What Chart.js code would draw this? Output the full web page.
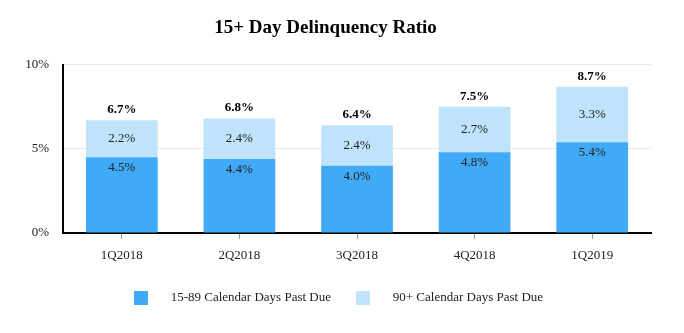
<!DOCTYPE html>
<html>
<head>
<meta charset="utf-8">
<script src="https://cdn.jsdelivr.net/npm/chart.js@4/dist/chart.umd.min.js"></script>
<style>
  html, body { margin: 0; padding: 0; background: #fff; }
  #wrap { width: 684px; height: 333px; }
</style>
</head>
<body>
<div id="wrap"><canvas id="delq"></canvas></div>
<script>
  var quarters = ["1Q2018", "2Q2018", "3Q2018", "4Q2018", "1Q2019"];
  var days15to89 = [4.5, 4.4, 4.0, 4.8, 5.4];
  var days90plus = [2.2, 2.4, 2.4, 2.7, 3.3];
  var totals = [6.7, 6.8, 6.4, 7.5, 8.7];
  var yTicks = [0, 5, 10];

  var serif = "'Liberation Serif', 'Times New Roman', serif";

  // labels inside and on top of the bars
  var barLabels = {
    id: 'barLabels',
    afterLayout: function(chart) {
      // legend sits a bit right of centre in the original
      chart.legend.left += 13;
      chart.legend.right += 13;
    },
    afterDatasetsDraw: function(chart) {
      var ctx = chart.ctx;
      ctx.save();
      ctx.textAlign = 'center';
      ctx.fillStyle = '#222';
      var dark = chart.getDatasetMeta(0).data;
      var light = chart.getDatasetMeta(1).data;
      ctx.font = '13px ' + serif;
      dark.forEach(function(b, i) {
        ctx.textBaseline = 'top';
        ctx.fillText(days15to89[i].toFixed(1) + '%', b.x, b.y + 4);
      });
      light.forEach(function(b, i) {
        ctx.textBaseline = 'middle';
        ctx.fillText(days90plus[i].toFixed(1) + '%', b.x, (b.y + b.base) / 2);
      });
      ctx.font = 'bold 13px ' + serif;
      ctx.fillStyle = '#000';
      light.forEach(function(b, i) {
        ctx.textBaseline = 'bottom';
        ctx.fillText(totals[i].toFixed(1) + '%', b.x, b.y - 4);
      });
      ctx.restore();
    }
  };

  var chart = new Chart(document.getElementById("delq"), {
    type: 'bar',
    data: {
      labels: quarters,
      datasets: [{
        label: "     15-89 Calendar Days Past Due",
        data: days15to89,
        backgroundColor: "#40aaf6"
      }, {
        label: "     90+ Calendar Days Past Due",
        data: days90plus,
        backgroundColor: "#c0e3fc"
      }]
    },
    options: {
      responsive: true,
      maintainAspectRatio: false,
      animation: false,
      datasets: { bar: { barPercentage: 0.61, categoryPercentage: 1 } },
      layout: { padding: { left: 0, right: 33, top: 13, bottom: 18 } },
      plugins: {
        title: {
          display: true,
          text: "15+ Day Delinquency Ratio",
          color: '#000',
          font: { family: serif, size: 19, weight: 'bold' },
          padding: { top: 4, bottom: 25 }
        },
        legend: {
          position: 'bottom',
          labels: {
            color: '#222',
            font: { family: serif, size: 13 },
            boxWidth: 14,
            boxHeight: 14,
            padding: 25
          }
        },
        tooltip: { enabled: false }
      },
      scales: {
        x: {
          stacked: true,
          afterFit: function(axis) { axis.height = 33; },
          grid: { offset: false, drawOnChartArea: false, tickLength: 6, tickColor: '#999' },
          border: { color: '#000', width: 2 },
          ticks: { color: '#222', font: { family: serif, size: 13 }, padding: 9 }
        },
        y: {
          stacked: true,
          min: 0,
          max: 10,
          afterBuildTicks: function(axis) {
            axis.ticks = yTicks.map(function(v) { return { value: v }; });
          },
          afterFit: function(axis) { axis.width = 63; },
          grid: { color: '#e6e6e6', drawTicks: false },
          border: { color: '#000', width: 2 },
          ticks: {
            color: '#222',
            padding: 14,
            font: { family: serif, size: 13 },
            callback: function(v) { return v + '%'; }
          }
        }
      }
    },
    plugins: [barLabels]
  });
</script>
</body>
</html>
